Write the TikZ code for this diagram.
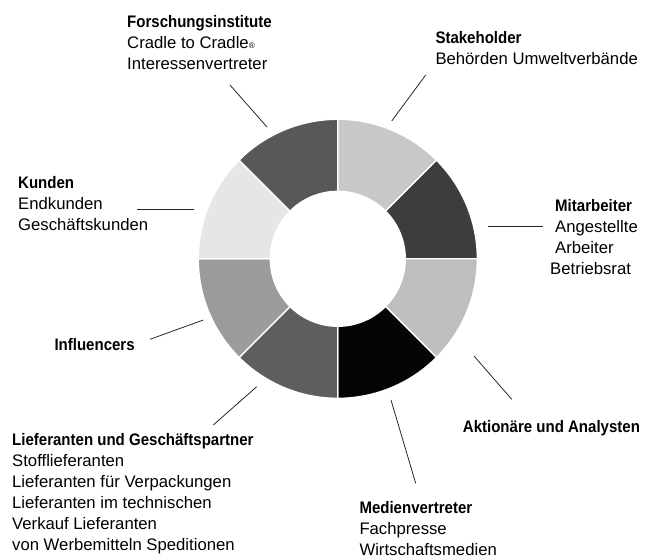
\documentclass[tikz,border=0pt]{standalone}
\usepackage{fontspec}
\setmainfont{Liberation Sans}[BoldFeatures={FakeStretch=0.9}]
\newcommand{\regmark}{\raisebox{0.6pt}{\fontsize{8}{8}\selectfont ®}}
\begin{document}
\begin{tikzpicture}[x=1pt,y=-1pt,
  lab/.style={font=\fontsize{16.7}{21}\selectfont, align=left, inner sep=0pt, anchor=base west},
  leader/.style={line width=0.8pt, black!85},
  seg/.style={draw=white, line width=1.3pt}]
\useasboundingbox (0,0) rectangle (654,558);
% donut
\def\Ro{139.5}
\def\Ri{67.5}
\begin{scope}[shift={(337.8,258.8)}]
\foreach \a/\b/\c in {45/90/c8c8c8, 0/45/3d3d3d, -45/0/bebebe, -90/-45/050505,
                      -135/-90/5e5e5e, -180/-135/9b9b9b, 135/180/e6e6e6, 90/135/585858}{
  \definecolor{segcol}{HTML}{\c}
  \path[seg, fill=segcol] (-\a:\Ri) -- (-\a:\Ro) arc[start angle=-\a, end angle=-\b, radius=\Ro]
     -- (-\b:\Ri) arc[start angle=-\b, end angle=-\a, radius=\Ri] -- cycle;
}
\end{scope}
% labels (anchor = baseline of the last line)
\node[lab] (forsch) at (127,69.7) {\textbf{Forschungsinstitute}\\Cradle to Cradle\regmark\\Interessenvertreter};
\node[lab] (stake) at (435.3,64) {\textbf{Stakeholder}\\Behörden Umweltverbände};
\node[lab] (kunden) at (18,230) {\textbf{Kunden}\\Endkunden\\Geschäftskunden};
\node[lab] (mitarb) at (555,274) {\textbf{Mitarbeiter}\\Angestellte\\Arbeiter\\\hspace*{-5pt}Betriebsrat};
\node[lab] (influ) at (54.3,350.5) {\textbf{Influencers}};
\node[lab] (liefer) at (12,550.5) {\textbf{Lieferanten und Geschäftspartner}\\Stofflieferanten\\Lieferanten für Verpackungen\\Lieferanten im technischen\\Verkauf Lieferanten\\von Werbemitteln Speditionen};
\node[lab] (aktion) at (462.7,432) {\textbf{Aktionäre und Analysten}};
\node[lab] (medien) at (359.3,555.5) {\textbf{Medienvertreter}\\Fachpresse\\Wirtschaftsmedien};
% leader lines
\coordinate (f1) at (230,85);   \coordinate (f2) at (267,127);
\coordinate (s1) at (425.7,75); \coordinate (s2) at (391.7,121);
\coordinate (k1) at (137,209);  \coordinate (k2) at (194,209);
\coordinate (m1) at (488.3,226.7); \coordinate (m2) at (543.3,226.7);
\coordinate (i1) at (150,339.3); \coordinate (i2) at (203.3,320);
\coordinate (l1) at (213.3,425); \coordinate (l2) at (256.7,386.7);
\coordinate (a1) at (474,356);   \coordinate (a2) at (511.7,399.3);
\coordinate (d1) at (391,400);   \coordinate (d2) at (415.7,483.3);
\draw[leader] (f1) -- (f2);
\draw[leader] (s1) -- (s2);
\draw[leader] (k1) -- (k2);
\draw[leader] (m1) -- (m2);
\draw[leader] (i1) -- (i2);
\draw[leader] (l1) -- (l2);
\draw[leader] (a1) -- (a2);
\draw[leader] (d1) -- (d2);
\end{tikzpicture}
\end{document}
